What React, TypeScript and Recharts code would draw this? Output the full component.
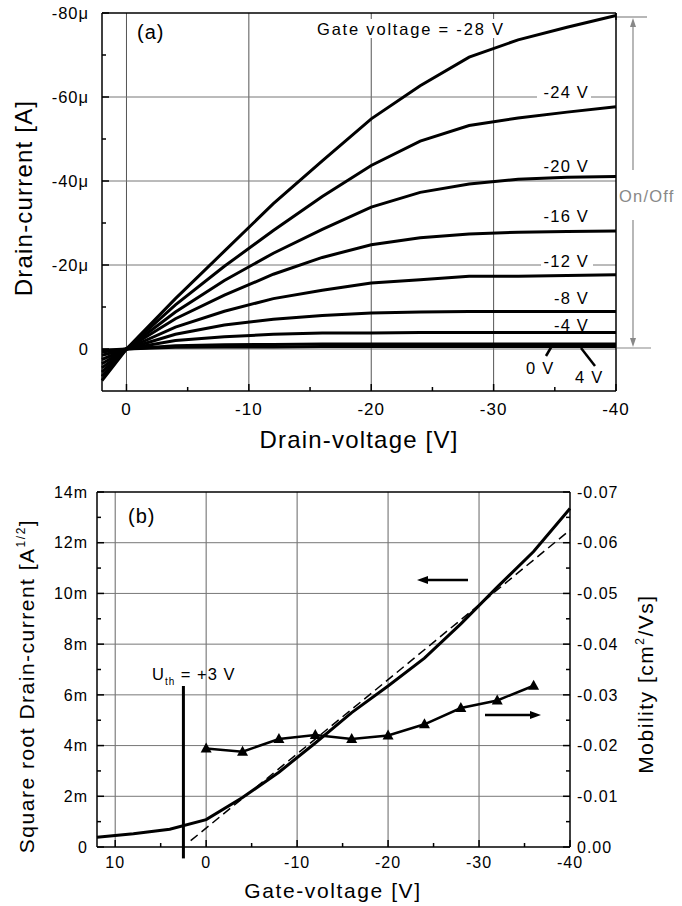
import React from "react";
import { LineChart, Line, XAxis, YAxis, ReferenceLine } from "recharts";

const FONT = "'Liberation Sans', Arial, Helvetica, sans-serif";

// ---- (a) output characteristics: drain current [µA] vs drain voltage [V]
const DRAIN_V = [2, 0, -4, -8, -12, -16, -20, -24, -28, -32, -36, -40];
const ID_G_M28 = [7.5, 0, -12, -23.3, -34.6, -44.8, -54.8, -62.7, -69.5, -73.6, -76.6, -79.4];
const ID_G_M24 = [6.5, 0, -10.5, -19.7, -28.2, -36.3, -43.7, -49.5, -53.2, -55.0, -56.4, -57.7];
const ID_G_M20 = [5.5, 0, -8.8, -16.3, -22.8, -28.5, -33.8, -37.3, -39.3, -40.4, -40.9, -41.1];
const ID_G_M16 = [4.5, 0, -7.2, -12.8, -17.8, -21.8, -24.8, -26.5, -27.4, -27.8, -28.0, -28.1];
const ID_G_M12 = [3.5, 0, -5.2, -9.0, -12.0, -14.0, -15.7, -16.5, -17.3, -17.3, -17.5, -17.7];
const ID_G_M8 = [2.5, 0, -3.5, -5.7, -7.1, -8.0, -8.6, -8.8, -8.9, -8.9, -8.9, -8.9];
const ID_G_M4 = [1.5, 0, -2.0, -2.9, -3.5, -3.8, -3.8, -3.9, -3.9, -3.9, -3.9, -3.9];
const ID_G_0 = [0.7, 0, -0.8, -1.0, -1.1, -1.2, -1.2, -1.2, -1.2, -1.2, -1.2, -1.2];
const ID_G_P4 = [0.3, 0, -0.4, -0.5, -0.5, -0.6, -0.6, -0.6, -0.6, -0.6, -0.6, -0.6];
const ID_SERIES = [ID_G_M28, ID_G_M24, ID_G_M20, ID_G_M16, ID_G_M12, ID_G_M8, ID_G_M4, ID_G_0, ID_G_P4];

const A_X_TICKS = [0, -5, -10, -15, -20, -25, -30, -35, -40];
const A_Y_TICKS = [-80, -70, -60, -50, -40, -30, -20, -10, 0];
const A_X_GRID = [0, -10, -20, -30];
const A_Y_GRID = [-60, -40, -20, 0];

// ---- (b) transfer characteristic
const SQRT_V = [12, 8, 4, 0, -4, -8, -12, -16, -20, -24, -28, -32, -36, -40];
const SQRT_ID = [0.38, 0.52, 0.7, 1.08, 1.95, 2.95, 4.1, 5.3, 6.35, 7.45, 8.8, 10.25, 11.65, 13.35]; // mA^1/2
const FIT_V = [1.7, -20, -40];
const FIT_ID = [0.25, 6.6, 12.5];
const MOB_V = [0, -4, -8, -12, -16, -20, -24, -28, -32, -36];
const MOB = [-0.0194, -0.0188, -0.0213, -0.0221, -0.0213, -0.022, -0.0242, -0.0274, -0.0289, -0.0318];
const UTH = 2.5;

const B_X_TICKS = [10, 5, 0, -5, -10, -15, -20, -25, -30, -35, -40];
const B_L_TICKS = [0, 1, 2, 3, 4, 5, 6, 7, 8, 9, 10, 11, 12, 13, 14];
const B_R_TICKS = [0, -0.005, -0.01, -0.015, -0.02, -0.025, -0.03, -0.035, -0.04, -0.045, -0.05, -0.055, -0.06, -0.065, -0.07];
const B_X_GRID = [10, 0, -10, -20, -30];
const B_Y_GRID = [2, 4, 6, 8, 10, 12];

const outputData = DRAIN_V.map((v, i) => {
  const row: Record<string, number> = { v };
  ID_SERIES.forEach((s, k) => (row[`s${k}`] = s[i]));
  return row;
});
const sqrtData = SQRT_V.map((v, i) => ({ v, y: SQRT_ID[i] }));
const fitData = FIT_V.map((v, i) => ({ v, y: FIT_ID[i] }));
const mobData = MOB_V.map((v, i) => ({ v, y: MOB[i] }));

type Side = "bottom" | "top" | "left" | "right";

// tick mark drawn inward, label outside
function makeTick(
  side: Side,
  isMajor: (v: number) => boolean,
  fmt?: (v: number) => string,
  fontSize = 16,
  gap = 20
) {
  return (p: any) => {
    const { x, y } = p;
    const v = p.payload.value;
    const len = isMajor(v) ? 7 : 4;
    let x2 = x;
    let y2 = y;
    if (side === "bottom") y2 = y - len;
    if (side === "top") y2 = y + len;
    if (side === "left") x2 = x + len;
    if (side === "right") x2 = x - len;
    let label = null;
    if (fmt && isMajor(v)) {
      const common = { fontSize, fontFamily: FONT, fill: "#000", letterSpacing: 1 };
      if (side === "bottom")
        label = (
          <text x={x} y={y + gap} textAnchor="middle" {...common}>
            {fmt(v)}
          </text>
        );
      if (side === "left")
        label = (
          <text x={x - gap} y={y} dy="0.36em" textAnchor="end" {...common}>
            {fmt(v)}
          </text>
        );
      if (side === "right")
        label = (
          <text x={x + gap} y={y} dy="0.36em" textAnchor="start" {...common}>
            {fmt(v)}
          </text>
        );
    }
    return (
      <g>
        <line x1={x} y1={y} x2={x2} y2={y2} stroke="#000" strokeWidth={1.5} />
        {label}
      </g>
    );
  };
}

const axisLine = { stroke: "#000", strokeWidth: 1.5 };
const tenth = (v: number) => Math.round(v) % 10 === 0;
const twentieth = (v: number) => Math.round(v) % 20 === 0;
const even = (v: number) => Math.round(v) % 2 === 0;
const hundredth = (v: number) => Math.round(Math.abs(v) * 1000) % 10 === 0;

function Triangle(props: any) {
  const { cx, cy } = props;
  if (cx == null || cy == null) return null;
  return <polygon points={`${cx},${cy - 6} ${cx - 5.5},${cy + 4} ${cx + 5.5},${cy + 4}`} fill="#000" />;
}

const axisCommon = {
  type: "number" as const,
  interval: 0 as const,
  tickSize: 0,
  tickMargin: 0,
  tickLine: false,
  axisLine,
};

function OutputChart() {
  return (
    <LineChart width={682} height={440} data={outputData} margin={{ top: 12, right: 65, bottom: 48, left: 101 }}>
      <XAxis
        {...axisCommon}
        dataKey="v"
        domain={[-40, 2]}
        reversed
        ticks={A_X_TICKS}
        height={1}
        tick={makeTick("bottom", tenth, (v) => (v === 0 ? "0" : `${v}`), 17, 24)}
      />
      <XAxis
        {...axisCommon}
        xAxisId="top"
        orientation="top"
        domain={[-40, 2]}
        reversed
        ticks={A_X_TICKS}
        height={1}
        tick={makeTick("top", tenth)}
      />
      <YAxis
        {...axisCommon}
        domain={[-80, 10]}
        reversed
        ticks={A_Y_TICKS}
        width={1}
        tick={makeTick("left", twentieth, (v) => (v === 0 ? "0" : `${v}μ`), 16.5, 13)}
      />
      <YAxis
        {...axisCommon}
        yAxisId="right"
        orientation="right"
        domain={[-80, 10]}
        reversed
        ticks={A_Y_TICKS}
        width={1}
        tick={makeTick("right", twentieth)}
      />
      {A_X_GRID.map((g) => (
        <ReferenceLine key={`gx${g}`} x={g} stroke="#555" strokeWidth={1} />
      ))}
      {A_Y_GRID.map((g) => (
        <ReferenceLine key={`gy${g}`} y={g} stroke="#777" strokeWidth={1} />
      ))}
      {ID_SERIES.map((_, k) => (
        <Line
          key={k}
          type="linear"
          dataKey={`s${k}`}
          stroke="#000"
          strokeWidth={3}
          dot={false}
          isAnimationActive={false}
        />
      ))}
    </LineChart>
  );
}

function TransferChart() {
  return (
    <LineChart width={682} height={466} margin={{ top: 51, right: 111, bottom: 58, left: 96 }}>
      <XAxis
        {...axisCommon}
        dataKey="v"
        domain={[-40, 12]}
        reversed
        ticks={B_X_TICKS}
        height={1}
        tick={makeTick("bottom", tenth, (v) => (v === 0 ? "0" : `${v}`), 16, 21)}
      />
      <XAxis
        {...axisCommon}
        xAxisId="top"
        orientation="top"
        domain={[-40, 12]}
        reversed
        ticks={B_X_TICKS}
        height={1}
        tick={makeTick("top", tenth)}
      />
      <YAxis
        {...axisCommon}
        yAxisId="left"
        domain={[0, 14]}
        ticks={B_L_TICKS}
        width={1}
        tick={makeTick("left", even, (v) => (v === 0 ? "0" : `${v}m`), 16, 9)}
      />
      <YAxis
        {...axisCommon}
        yAxisId="right"
        orientation="right"
        domain={[-0.07, 0]}
        reversed
        ticks={B_R_TICKS}
        width={1}
        tick={makeTick("right", hundredth, (v) => (v === 0 ? "0.00" : v.toFixed(2)), 16, 7)}
      />
      {B_X_GRID.map((g) => (
        <ReferenceLine key={`gx${g}`} yAxisId="left" x={g} stroke="#666" strokeWidth={1} />
      ))}
      {B_Y_GRID.map((g) => (
        <ReferenceLine key={`gy${g}`} yAxisId="left" y={g} stroke="#777" strokeWidth={1} />
      ))}
      <Line
        yAxisId="left"
        data={fitData}
        dataKey="y"
        type="linear"
        stroke="#000"
        strokeWidth={1.5}
        strokeDasharray="9 5"
        dot={false}
        isAnimationActive={false}
      />
      <Line
        yAxisId="left"
        data={sqrtData}
        dataKey="y"
        type="linear"
        stroke="#000"
        strokeWidth={3}
        dot={false}
        isAnimationActive={false}
      />
      <Line
        yAxisId="right"
        data={mobData}
        dataKey="y"
        type="linear"
        stroke="#000"
        strokeWidth={2.5}
        dot={<Triangle />}
        isAnimationActive={false}
      />
      <ReferenceLine
        yAxisId="left"
        segment={[
          { x: UTH, y: 6.35 },
          { x: UTH, y: -0.45 },
        ]}
        ifOverflow="visible"
        stroke="#000"
        strokeWidth={3}
      />
    </LineChart>
  );
}

function Annotations() {
  const t = { fontFamily: FONT, fill: "#000" };
  const gl = { fontSize: 16.5, letterSpacing: 1.2, ...t };
  return (
    <svg width={682} height={906} style={{ position: "absolute", left: 0, top: 0, pointerEvents: "none" }}>
      {/* (a) */}
      <text x={137} y={39} fontSize={20} letterSpacing={1} {...t}>
        (a)
      </text>
      <rect x={314} y={19} width={195} height={19} fill="#fff" />
      <text x={317} y={35} fontSize={16.5} letterSpacing={1.8} {...t}>
        Gate voltage = -28 V
      </text>
      <rect x={537} y={93} width={54} height={7} fill="#fff" />
      <text x={589} y={98} textAnchor="end" {...gl}>-24 V</text>
      <text x={589} y={172} textAnchor="end" {...gl}>-20 V</text>
      <text x={589} y={222} textAnchor="end" {...gl}>-16 V</text>
      <rect x={541} y={262} width={52} height={6} fill="#fff" />
      <text x={589} y={267} textAnchor="end" {...gl}>-12 V</text>
      <text x={589} y={304} textAnchor="end" {...gl}>-8 V</text>
      <text x={589} y={331} textAnchor="end" {...gl}>-4 V</text>
      <text x={526} y={374} {...gl}>0 V</text>
      <text x={575} y={383} {...gl}>4 V</text>
      <line x1={546} y1={356} x2={553} y2={344} stroke="#000" strokeWidth={2.5} />
      <line x1={595} y1={366} x2={581} y2={348} stroke="#000" strokeWidth={2.5} />

      {/* On/Off bracket */}
      <g stroke="#888" strokeWidth={1.2}>
        <line x1={617} y1={17} x2={647} y2={17} />
        <line x1={617} y1={348} x2={651} y2={348} />
        <line x1={633} y1={22} x2={633} y2={170} />
        <line x1={633} y1={220} x2={633} y2={343} />
      </g>
      <polygon points="633,18 630,27 636,27" fill="#888" />
      <polygon points="633,347 630,338 636,338" fill="#888" />
      <text x={619} y={202} fontSize={16.5} letterSpacing={1.2} fontFamily={FONT} fill="#888">
        On/Off
      </text>

      {/* (a) axis titles */}
      <text x={359} y={448} textAnchor="middle" fontSize={24} letterSpacing={1.2} {...t}>
        Drain-voltage [V]
      </text>
      <text
        x={32}
        y={198}
        transform="rotate(-90 32 198)"
        textAnchor="middle"
        fontSize={24}
        letterSpacing={1.2}
        {...t}
      >
        Drain-current [A]
      </text>

      {/* (b) */}
      <text x={128} y={523} fontSize={20} letterSpacing={1} {...t}>
        (b)
      </text>
      <text x={152} y={680} fontSize={16.5} letterSpacing={1} {...t}>
        U<tspan fontSize={10} dy={5}>th</tspan>
        <tspan dy={-5}> = +3 V</tspan>
      </text>
      <line x1={468} y1={580} x2={424} y2={580} stroke="#000" strokeWidth={2.5} />
      <polygon points="417,580 428,576 428,584" fill="#000" />
      <line x1={485} y1={715} x2={534} y2={715} stroke="#000" strokeWidth={2.5} />
      <polygon points="541,715 530,711 530,719" fill="#000" />

      <text x={333} y={898} textAnchor="middle" fontSize={21} letterSpacing={1.6} {...t}>
        Gate-voltage [V]
      </text>
      <text
        x={34}
        y={686}
        transform="rotate(-90 34 686)"
        textAnchor="middle"
        fontSize={21}
        letterSpacing={1.5}
        {...t}
      >
        Square root Drain-current [A
        <tspan fontSize={12} dy={-9}>1/2</tspan>
        <tspan dy={9}>]</tspan>
      </text>
      <text
        x={653}
        y={684}
        transform="rotate(-90 653 684)"
        textAnchor="middle"
        fontSize={21}
        letterSpacing={1.5}
        {...t}
      >
        Mobility [cm<tspan fontSize={12} dy={-9}>2</tspan>
        <tspan dy={9}>/Vs]</tspan>
      </text>
    </svg>
  );
}

export default function App() {
  return (
    <div style={{ position: "absolute", left: 0, top: 0, width: 682, height: 906, background: "#fff" }}>
      <div style={{ position: "absolute", left: 0, top: 0 }}>
        <OutputChart />
      </div>
      <div style={{ position: "absolute", left: 0, top: 440 }}>
        <TransferChart />
      </div>
      <Annotations />
    </div>
  );
}
